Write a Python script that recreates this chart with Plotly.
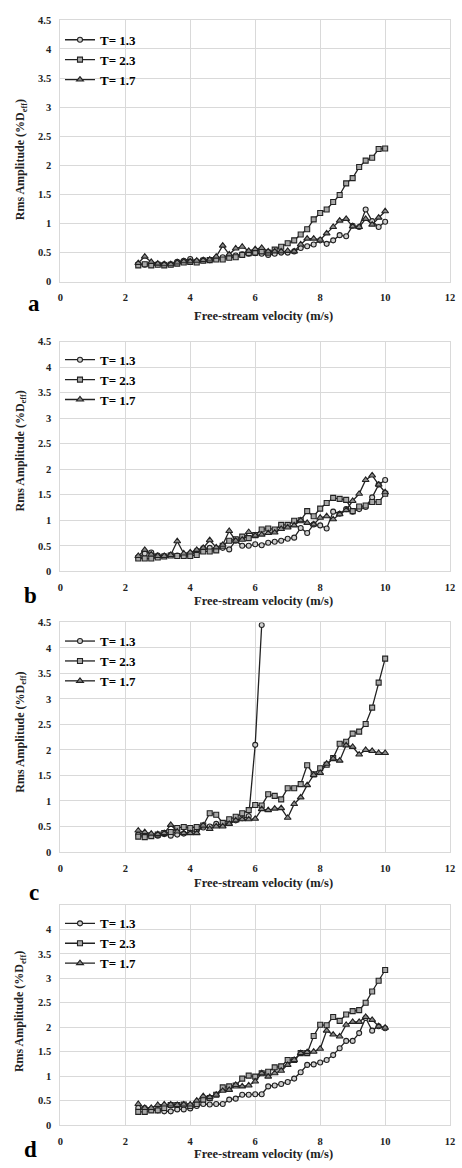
import plotly.graph_objects as go

# Free-stream velocity (m/s) shared by every run
velocity = [2.4, 2.6, 2.8, 3.0, 3.2, 3.4, 3.6, 3.8, 4.0, 4.2, 4.4, 4.6, 4.8,
            5.0, 5.2, 5.4, 5.6, 5.8, 6.0, 6.2, 6.4, 6.6, 6.8, 7.0, 7.2, 7.4,
            7.6, 7.8, 8.0, 8.2, 8.4, 8.6, 8.8, 9.0, 9.2, 9.4, 9.6, 9.8, 10.0]

series_names = ["T= 1.3", "T= 2.3", "T= 1.7"]
panel_letters = ["a", "b", "c", "d"]
x_ticks = [0, 2, 4, 6, 8, 10, 12]
y_ticks = [0, 0.5, 1, 1.5, 2, 2.5, 3, 3.5, 4, 4.5]

# RMS amplitude (% D_eff), panel a
a_t13 = [0.30, 0.29, 0.29, 0.30, 0.30, 0.30, 0.34, 0.36, 0.39, 0.35, 0.37, 0.37, 0.40,
         0.42, 0.44, 0.45, 0.47, 0.48, 0.49, 0.48, 0.46, 0.48, 0.50, 0.50, 0.52, 0.58,
         0.61, 0.64, 0.71, 0.65, 0.71, 0.80, 0.78, 0.96, 0.94, 1.24, 1.04, 0.94, 1.03]
a_t23 = [0.28, 0.30, 0.28, 0.29, 0.28, 0.29, 0.31, 0.33, 0.34, 0.33, 0.36, 0.37, 0.38,
         0.38, 0.41, 0.42, 0.46, 0.49, 0.50, 0.52, 0.50, 0.55, 0.60, 0.66, 0.71, 0.81,
         0.90, 1.07, 1.18, 1.24, 1.37, 1.49, 1.69, 1.78, 1.97, 2.08, 2.13, 2.28, 2.29]
a_t17 = [0.32, 0.43, 0.34, 0.31, 0.30, 0.30, 0.33, 0.35, 0.35, 0.36, 0.37, 0.38, 0.43,
         0.62, 0.47, 0.57, 0.60, 0.53, 0.56, 0.58, 0.52, 0.52, 0.52, 0.53, 0.52, 0.64,
         0.74, 0.74, 0.72, 0.83, 0.94, 1.05, 1.08, 0.95, 0.94, 1.08, 0.98, 1.10, 1.21]

# panel b
b_t13 = [0.28, 0.35, 0.37, 0.31, 0.30, 0.32, 0.31, 0.30, 0.35, 0.40, 0.45, 0.46, 0.43,
         0.46, 0.43, 0.60, 0.50, 0.50, 0.53, 0.51, 0.56, 0.58, 0.60, 0.64, 0.66, 0.85,
         0.75, 0.92, 0.90, 0.84, 1.17, 1.13, 1.22, 1.17, 1.22, 1.26, 1.45, 1.70, 1.79]
b_t23 = [0.25, 0.25, 0.25, 0.27, 0.29, 0.31, 0.30, 0.30, 0.30, 0.32, 0.39, 0.39, 0.41,
         0.50, 0.60, 0.63, 0.68, 0.65, 0.71, 0.82, 0.84, 0.82, 0.91, 0.91, 0.99, 1.00,
         1.18, 1.08, 1.23, 1.34, 1.44, 1.42, 1.40, 1.18, 1.27, 1.29, 1.36, 1.36, 1.52]
b_t17 = [0.30, 0.42, 0.33, 0.30, 0.30, 0.32, 0.59, 0.35, 0.37, 0.42, 0.46, 0.61, 0.47,
         0.52, 0.79, 0.60, 0.62, 0.77, 0.70, 0.72, 0.75, 0.76, 0.83, 0.86, 0.90, 1.00,
         0.95, 0.92, 1.05, 1.08, 1.02, 1.12, 1.20, 1.38, 1.52, 1.79, 1.88, 1.70, 1.55]

# panel c (T= 1.3 run stops at 6.2 m/s)
c_t13 = [0.34, 0.32, 0.32, 0.32, 0.35, 0.32, 0.34, 0.36, 0.40, 0.42, 0.48, 0.50, 0.55,
         0.53, 0.57, 0.62, 0.66, 0.70, 2.10, 4.45]
c_t23 = [0.30, 0.29, 0.31, 0.34, 0.37, 0.39, 0.47, 0.49, 0.47, 0.49, 0.52, 0.76, 0.73,
         0.57, 0.64, 0.69, 0.76, 0.82, 0.92, 0.91, 1.13, 1.10, 1.03, 1.25, 1.25, 1.33,
         1.70, 1.52, 1.64, 1.71, 1.84, 2.12, 2.16, 2.32, 2.36, 2.51, 2.83, 3.32, 3.79]
c_t17 = [0.42, 0.39, 0.36, 0.35, 0.37, 0.53, 0.40, 0.37, 0.37, 0.37, 0.52, 0.45, 0.50,
         0.50, 0.55, 0.62, 0.64, 0.64, 0.65, 0.84, 0.82, 0.85, 0.86, 0.67, 0.94, 1.07,
         1.31, 1.51, 1.55, 1.73, 1.83, 1.79, 2.09, 2.06, 1.91, 2.00, 1.98, 1.94, 1.94]

# panel d
d_t13 = [0.35, 0.35, 0.32, 0.30, 0.28, 0.28, 0.32, 0.32, 0.34, 0.39, 0.43, 0.42, 0.43,
         0.43, 0.52, 0.54, 0.62, 0.62, 0.63, 0.63, 0.79, 0.81, 0.84, 0.88, 0.95, 1.08,
         1.23, 1.24, 1.28, 1.33, 1.43, 1.57, 1.72, 1.72, 1.88, 2.19, 1.93, 2.02, 1.98]
d_t23 = [0.27, 0.27, 0.30, 0.30, 0.35, 0.41, 0.41, 0.42, 0.39, 0.43, 0.52, 0.55, 0.62,
         0.77, 0.79, 0.81, 0.95, 1.01, 0.99, 1.06, 1.09, 1.18, 1.20, 1.33, 1.33, 1.47,
         1.47, 1.82, 2.05, 2.04, 2.21, 2.13, 2.26, 2.33, 2.35, 2.50, 2.73, 2.95, 3.17]
d_t17 = [0.43, 0.35, 0.35, 0.41, 0.42, 0.42, 0.41, 0.42, 0.42, 0.50, 0.59, 0.57, 0.62,
         0.70, 0.72, 0.82, 0.79, 0.81, 0.89, 1.06, 0.99, 1.06, 1.11, 1.23, 1.33, 1.47,
         1.49, 1.50, 1.56, 1.93, 1.85, 1.81, 2.05, 2.11, 2.11, 2.21, 2.15, 2.02, 1.99]

panels = [
    (a_t13, a_t23, a_t17),
    (b_t13, b_t23, b_t17),
    (c_t13, c_t23, c_t17),
    (d_t13, d_t23, d_t17),
]

W, H = 462, 1168
SERIF = "Liberation Serif"
GRID = "#d9d9d9"
INK = "#222222"

# plot-area extents in pixels: (top, bottom) for each panel
plot_rows = [(15, 279.3), (340, 571.7), (623.3, 855), (908.5, 1130.7)]
plot_x = (58.3, 455)

marker_styles = [
    dict(symbol="circle", size=5, color="#cfcfcf", line=dict(color=INK, width=1.1)),
    dict(symbol="square", size=5, color="#a8a8a8", line=dict(color=INK, width=1.1)),
    dict(symbol="triangle-up", size=6, color="#8a8a8a", line=dict(color=INK, width=1.1)),
]

def py(px):
    return 1 - px / H

def pxx(px):
    return px / W

fig = go.Figure()
layout = dict(
    width=W, height=H,
    margin=dict(l=0, r=0, t=0, b=0),
    paper_bgcolor="white", plot_bgcolor="white",
    font=dict(family=SERIF, color="#000"),
    annotations=[],
)

legend_names = ["legend", "legend2", "legend3", "legend4"]
legend_tops = [20, 343, 627, 912]

for i, (series, (top, bottom)) in enumerate(zip(panels, plot_rows)):
    sfx = "" if i == 0 else str(i + 1)
    xa, ya = "x" + sfx, "y" + sfx
    for name, vals, mk in zip(series_names, series, marker_styles):
        fig.add_trace(go.Scatter(
            x=velocity[:len(vals)], y=vals, name=name, mode="lines+markers",
            line=dict(color=INK, width=1.3), marker=mk,
            xaxis=xa, yaxis=ya, legend=legend_names[i], cliponaxis=True,
        ))

    tick_font = dict(family=SERIF, size=10.5, color="#222", weight="bold")
    yvals = y_ticks if i < 3 else y_ticks[:-1]
    layout["xaxis" + sfx] = dict(
        domain=[pxx(plot_x[0]), pxx(plot_x[1])], anchor=ya,
        range=[0, 12], tickvals=x_ticks, showgrid=True, gridcolor=GRID, gridwidth=1,
        zeroline=False, showline=True, mirror=True, linecolor=GRID, linewidth=1,
        ticks="", tickfont=tick_font, ticklabelstandoff=6,
    )
    layout["yaxis" + sfx] = dict(
        domain=[py(bottom), py(top)], anchor=xa,
        range=[0, 4.5], tickvals=yvals, ticktext=[f"{v:g}" for v in yvals],
        showgrid=True, gridcolor=GRID, gridwidth=1,
        zeroline=False, showline=True, mirror=True, linecolor=GRID, linewidth=1,
        ticks="", tickfont=tick_font, ticklabelstandoff=6,
    )
    layout[legend_names[i]] = dict(
        x=pxx(58), y=py(legend_tops[i]), xanchor="left", yanchor="top",
        bgcolor="rgba(0,0,0,0)", borderwidth=0, itemwidth=30,
        font=dict(family=SERIF, size=13, color="#000", weight="bold"),
        tracegroupgap=0,
    )

# axis titles and panel letters
x_title_y = [314, 602, 886, 1160]
y_title_y = [156, 450, 734, 1016]
letter_xy = [(32, 301), (28, 596), (32, 896), (28, 1155)]

for i in range(4):
    layout["annotations"].append(dict(
        text="Free-stream velocity (m/s)", xref="paper", yref="paper",
        x=pxx(265), y=py(x_title_y[i]), xanchor="center", yanchor="middle",
        showarrow=False, font=dict(family=SERIF, size=12.5, color="#222", weight="bold"),
    ))
    layout["annotations"].append(dict(
        text="Rms Amplitude (%D<sub>eff</sub>)", xref="paper", yref="paper",
        x=pxx(18), y=py(y_title_y[i]), xanchor="center", yanchor="middle",
        textangle=-90, showarrow=False,
        font=dict(family=SERIF, size=12, color="#222", weight="bold"),
    ))
    lx, ly = letter_xy[i]
    layout["annotations"].append(dict(
        text=panel_letters[i], xref="paper", yref="paper",
        x=pxx(lx), y=py(ly), xanchor="center", yanchor="middle",
        showarrow=False, font=dict(family=SERIF, size=23, color="#000", weight="bold"),
    ))

fig.update_layout(**layout)
fig.write_html("out.html")
